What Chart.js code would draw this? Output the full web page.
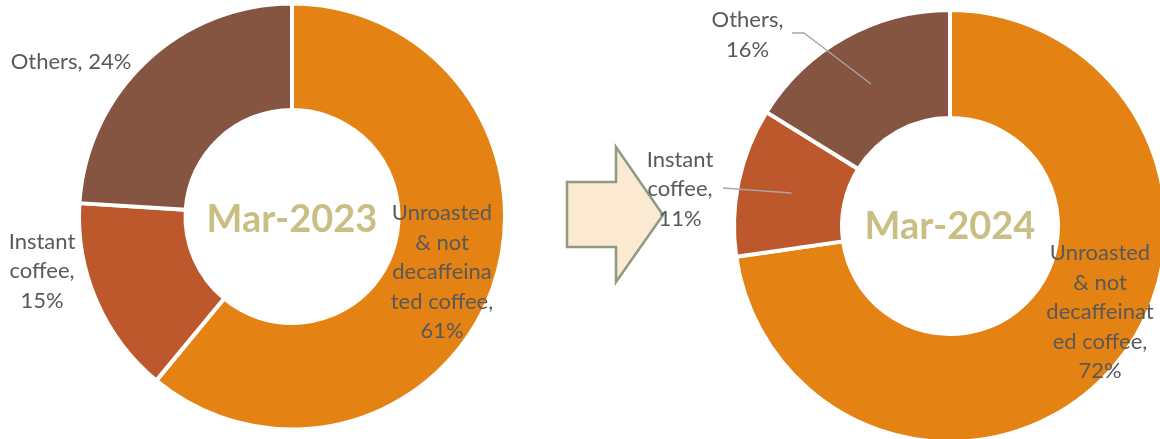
<!DOCTYPE html>
<html>
<head>
<meta charset="utf-8">
<script src="https://cdn.jsdelivr.net/npm/chart.js@4.4.1/dist/chart.umd.min.js"></script>
<style>
    html, body { margin: 0; padding: 0; background: #ffffff; overflow: hidden; }
    #wrap { position: relative; width: 1160px; height: 439px; overflow: hidden; }
    .ring-box { position: absolute; top: 0; }
    #box-2023 { left: 0; width: 580px; height: 439px; }
    #box-2024 { left: 560px; width: 610px; height: 445px; }
    #arrow { position: absolute; left: 560px; top: 140px; }
</style>
</head>
<body>
<div id="wrap">
    <div class="ring-box" id="box-2023"><canvas id="chart-2023"></canvas></div>
    <svg id="arrow" width="110" height="150" viewBox="560 140 110 150">
        <polygon points="567,182 616,182 616,147 663,215 616,282 616,247 567,247"
                 fill="#FBE9D2" stroke="#8D9C80" stroke-width="2.5" stroke-linejoin="miter"/>
    </svg>
    <div class="ring-box" id="box-2024"><canvas id="chart-2024"></canvas></div>
</div>
<script>
const categories = ["Unroasted & not decaffeinated coffee", "Instant coffee", "Others"];
const share2023 = [61, 15, 24];
const share2024 = [72, 11, 16];
const periods = ["Mar-2023", "Mar-2024"];
const sliceColors = ["#E48313", "#BD582C", "#855541"];

// how Excel wrapped the data labels (percentage gets appended from the data)
const wrap2023 = [["Unroasted", "& not", "decaffeina", "ted coffee,"], ["Instant", "coffee,"], ["Others,"]];
const wrap2024 = [["Unroasted", "& not", "decaffeinat", "ed coffee,"], ["Instant", "coffee,"], ["Others,"]];

const LABEL_FONT = "22px Lato";
const LINE_H = 29.5;

const ringLabels = {
    id: "ringLabels",
    afterDatasetsDraw(chart, args, opts) {
        const arc = chart.getDatasetMeta(0).data[0];
        const cx = arc.x, cy = arc.y;
        const ctx = chart.ctx;
        const values = chart.data.datasets[0].data;
        ctx.save();

        // centre title
        ctx.font = "bold 38px Lato";
        ctx.fillStyle = "#C9BF85";
        ctx.textAlign = "center";
        ctx.textBaseline = "middle";
        ctx.fillText(opts.title, cx, cy + opts.titleDy);

        // leader lines
        ctx.strokeStyle = "#A6A6A6";
        ctx.lineWidth = 1.3;
        (opts.leaders || []).forEach(pts => {
            ctx.beginPath();
            pts.forEach((p, i) => i === 0 ? ctx.moveTo(cx + p[0], cy + p[1]) : ctx.lineTo(cx + p[0], cy + p[1]));
            ctx.stroke();
        });

        // data labels
        ctx.font = LABEL_FONT;
        ctx.fillStyle = "#595959";
        opts.wrap.forEach((lines, i) => {
            const pct = values[i] + "%";
            let all = lines.slice();
            if (opts.inline[i]) {
                all[all.length - 1] = all[all.length - 1] + " " + pct;
            } else {
                all.push(pct);
            }
            const pos = opts.pos[i];
            const top = cy + pos[1] - (all.length - 1) * LINE_H / 2;
            all.forEach((t, k) => ctx.fillText(t, cx + pos[0], top + k * LINE_H));
        });
        ctx.restore();
    }
};

function makeRing(canvasId, values, padding, labelOpts) {
    return new Chart(document.getElementById(canvasId), {
        type: "doughnut",
        data: {
            labels: categories,
            datasets: [{
                data: values,
                backgroundColor: sliceColors,
                borderColor: "#ffffff",
                borderWidth: 4,
                hoverOffset: 0
            }]
        },
        options: {
            responsive: true,
            maintainAspectRatio: false,
            animation: false,
            events: [],
            cutout: "50%",
            layout: { padding: padding },
            plugins: {
                legend: { display: false },
                tooltip: { enabled: false },
                ringLabels: labelOpts
            }
        },
        plugins: [ringLabels]
    });
}

makeRing("chart-2023", share2023, { left: 77, right: 73, top: 1.5, bottom: 7.5 }, {
    title: periods[0],
    titleDy: 3,
    wrap: wrap2023,
    inline: [false, false, true],
    pos: [[150, 55.5], [-250, 54.5], [-221, -154.5]],
    leaders: []
});

makeRing("chart-2024", share2024, { left: 172, right: 2, top: 8, bottom: 1 }, {
    title: periods[1],
    titleDy: 1,
    wrap: wrap2024,
    inline: [false, false, false],
    pos: [[150, 86], [-270, -37], [-202.5, -191]],
    leaders: [
        [[-158, -193], [-146, -193], [-79, -142]],
        [[-227, -38], [-158.5, -33]]
    ]
});
</script>
</body>
</html>
